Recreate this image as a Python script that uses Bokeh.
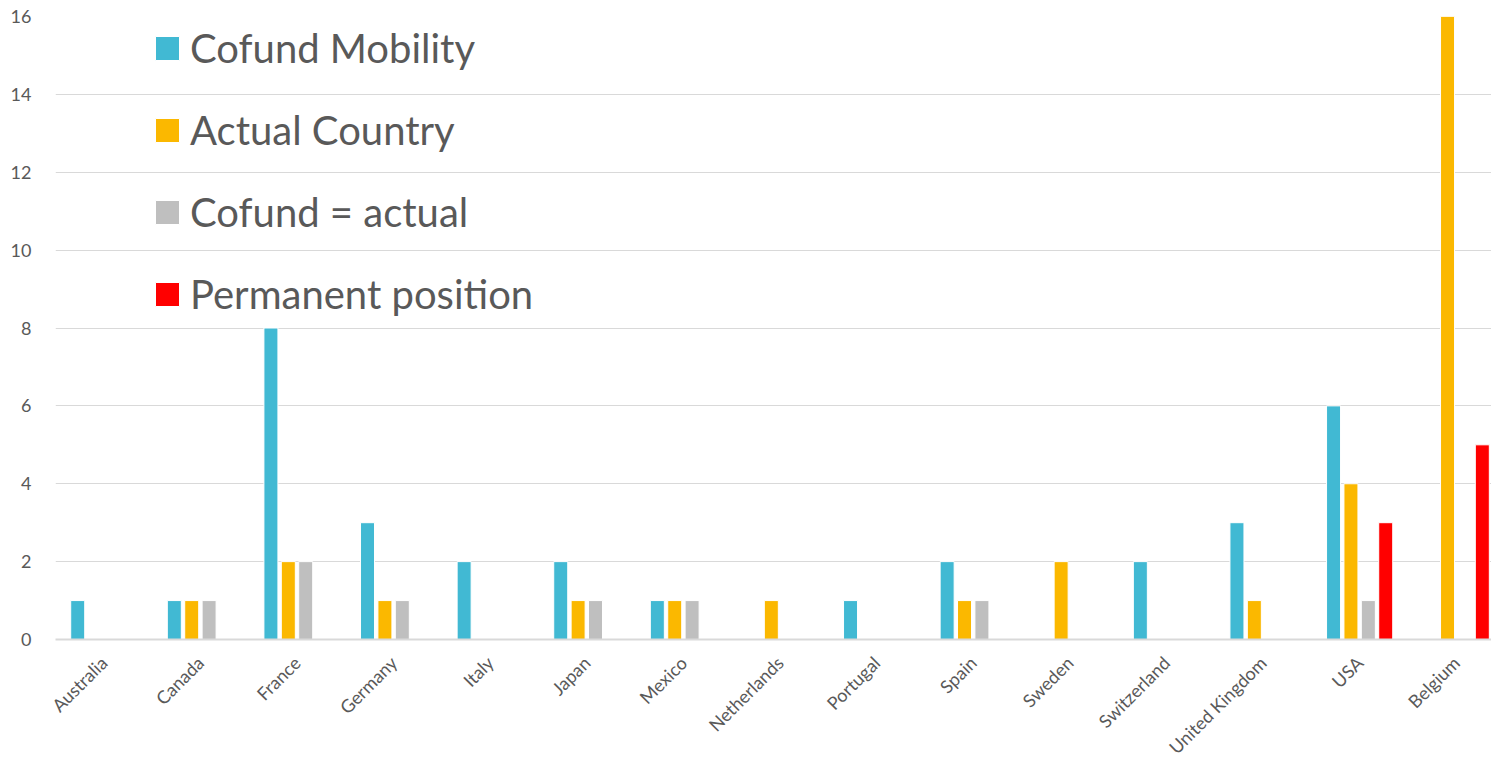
from bokeh.plotting import figure
from bokeh.models import ColumnDataSource, FixedTicker, Range1d, Legend, LegendItem
from bokeh.transform import dodge
from bokeh.embed import file_html
from bokeh.resources import INLINE
from math import pi

countries = ["Australia", "Canada", "France", "Germany", "Italy", "Japan", "Mexico",
             "Netherlands", "Portugal", "Spain", "Sweden", "Switzerland",
             "United Kingdom", "USA", "Belgium"]
cofund_mobility = [1, 1, 8, 3, 2, 2, 1, 0, 1, 2, 0, 2, 3, 6, 0]
actual_country = [0, 1, 2, 1, 0, 1, 1, 1, 0, 1, 2, 0, 1, 4, 16]
cofund_eq_actual = [0, 1, 2, 1, 0, 1, 1, 0, 0, 1, 0, 0, 0, 1, 0]
permanent_position = [0, 0, 0, 0, 0, 0, 0, 0, 0, 0, 0, 0, 0, 3, 5]
series_names = ["Cofund Mobility", "Actual Country", "Cofund = actual", "Permanent position"]
y_ticks = [0, 2, 4, 6, 8, 10, 12, 14, 16]

colors = ["#41B9D3", "#FBB800", "#BFBFBF", "#FF0000"]
text_color = "#595959"
grid_color = "#D9D9D9"
font = "Lato"

x_idx = list(range(len(countries)))
src = ColumnDataSource(dict(x=x_idx, s0=cofund_mobility, s1=actual_country,
                            s2=cofund_eq_actual, s3=permanent_position))

p = figure(width=1491, height=769, output_backend="svg", toolbar_location=None,
           x_range=Range1d(-0.5, 14.365), y_range=Range1d(0, 16),
           min_border_left=55, min_border_right=0, min_border_top=16,
           min_border_bottom=130)
p.outline_line_color = None
p.background_fill_color = "white"
p.border_fill_color = "white"

offsets = [-0.27, -0.09, 0.09, 0.27]
renderers = []
for i, key in enumerate(["s0", "s1", "s2", "s3"]):
    r = p.vbar(x=dodge("x", offsets[i]), top=key, width=0.145, source=src,
               fill_color=colors[i], line_color="white", line_width=1)
    renderers.append(r)

legend = Legend(items=[LegendItem(label=series_names[i], renderers=[renderers[i]])
                       for i in range(4)],
                location=(97, 321), orientation="vertical",
                glyph_width=30, glyph_height=30, label_text_font_size="40px",
                label_text_font=font, label_text_color=text_color,
                label_height=48, label_standoff=8, spacing=34, padding=0, margin=0,
                border_line_color=None, background_fill_alpha=0)
p.add_layout(legend, "center")

p.xgrid.grid_line_color = None
p.ygrid.grid_line_color = grid_color
p.ygrid.grid_line_width = 1.2
p.ygrid.ticker = FixedTicker(ticks=y_ticks)

p.yaxis.ticker = FixedTicker(ticks=y_ticks)
p.yaxis.axis_line_color = None
p.yaxis.major_tick_line_color = None
p.yaxis.minor_tick_line_color = None
p.yaxis.major_label_text_font = font
p.yaxis.major_label_text_font_size = "18px"
p.yaxis.major_label_text_color = text_color
p.yaxis.major_label_standoff = 18

p.xaxis.ticker = FixedTicker(ticks=x_idx)
p.xaxis.major_label_overrides = {i: c for i, c in enumerate(countries)}
p.xaxis.major_label_orientation = pi / 4
p.xaxis.axis_line_color = grid_color
p.xaxis.axis_line_width = 2
p.xaxis.major_tick_line_color = None
p.xaxis.minor_tick_line_color = None
p.xaxis.major_label_text_font = font
p.xaxis.major_label_text_font_size = "18px"
p.xaxis.major_label_text_color = text_color
p.xaxis.major_label_standoff = 14

open("out.html", "w").write(file_html(p, INLINE))
